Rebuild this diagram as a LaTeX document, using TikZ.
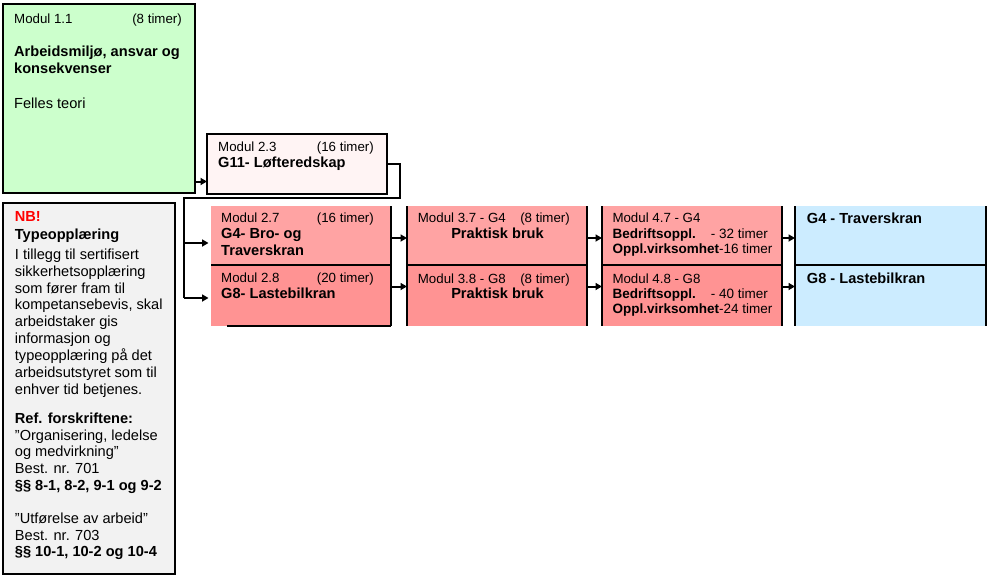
\documentclass[tikz,border=0pt]{standalone}
\usepackage{fontspec}
\setmainfont{Liberation Sans}
\usetikzlibrary{arrows.meta}
\definecolor{grn}{HTML}{CCFFCC}
\definecolor{pk}{HTML}{FFF4F4}
\definecolor{rdA}{HTML}{FFA3A3}
\definecolor{rdB}{HTML}{FF9393}
\definecolor{blu}{HTML}{CCECFF}
\definecolor{gry}{HTML}{F2F2F2}
\definecolor{nbred}{HTML}{FF0000}
\begin{document}
\begin{tikzpicture}[x=1pt,y=-1pt,
  cell/.style={anchor=north west, inner sep=0pt, outer sep=0pt},
  bx/.style={cell, draw=black, line width=1.3pt},
  t/.style={anchor=base west, inner sep=0pt, font=\fontsize{14.6}{16.7}\selectfont},
  tb/.style={t, font=\fontsize{14.6}{16.7}\selectfont\bfseries},
  ts/.style={t, font=\fontsize{13.3}{15}\selectfont},
  tm/.style={t, font=\fontsize{13.5}{15}\selectfont},
  tr/.style={ts, anchor=base east},
  edge/.style={line width=1.3pt},
  conn/.style={line width=2.4pt, line join=miter},
  arr/.style={line width=2pt, -{Triangle[length=6.5pt,width=7pt]}},
]
\useasboundingbox (0,0) rectangle (987,583);
\fill[white] (0,0) rectangle (987,583);

% boxes
\node[bx, fill=grn, minimum width=192pt, minimum height=189pt] (m11) at (3,4) {};
\node[bx, fill=pk, minimum width=180pt, minimum height=60pt] (m23) at (207,134) {};
\node[bx, fill=gry, minimum width=172pt, minimum height=371pt] (nb) at (3,203) {};

\node[cell, fill=rdA, minimum width=180pt, minimum height=59pt] (c27) at (211,206) {};
\node[cell, fill=rdB, minimum width=180pt, minimum height=61pt] (c28) at (211,265) {};
\node[cell, fill=rdA, minimum width=180pt, minimum height=59pt] (c37) at (407,206) {};
\node[cell, fill=rdB, minimum width=180pt, minimum height=61pt] (c38) at (407,265) {};
\node[cell, fill=rdA, minimum width=180pt, minimum height=59pt] (c47) at (602,206) {};
\node[cell, fill=rdB, minimum width=180pt, minimum height=61pt] (c48) at (602,265) {};
\node[cell, fill=blu, minimum width=191pt, minimum height=59pt] (c57) at (795,206) {};
\node[cell, fill=blu, minimum width=191pt, minimum height=61pt] (c58) at (795,265) {};

% partial borders
\draw[edge] (c27.north east) -- (c28.south east);
\draw[edge] (c27.south west) -- (c27.south east);
\draw[edge] ([xshift=16pt]c28.south west) -- (c28.south east);
\foreach \a/\b in {c37/c38,c47/c48,c57/c58}{
  \draw[edge] (\a.north west) -- (\b.south west);
  \draw[edge] (\a.north east) -- (\b.south east);
  \draw[edge] (\a.south west) -- (\a.south east);
}

% connectors
\coordinate (k1) at (400,198);
\coordinate (k2) at (184,198);
\coordinate (a1) at (208.5,243);
\coordinate (a2) at (208.5,298);
\draw[arr] ([yshift=11.5pt]m11.south east) -- ([yshift=11.5pt]m11.south east -| m23.west);
\draw[conn] (m23.east) -| (k1) -- (k2) -- (k2 |- a2);
\draw[arr] (k2 |- a1) -- (a1);
\draw[arr] (k2 |- a2) -- (a2);
\draw[arr] ([yshift=-2.5pt]c27.east) -- ([yshift=-2.5pt]c37.west);
\draw[arr] ([yshift=9pt]c28.east) -- ([yshift=9pt]c38.west);
\draw[arr] ([yshift=-2.5pt]c37.east) -- ([yshift=-2.5pt]c47.west);
\draw[arr] ([yshift=9pt]c38.east) -- ([yshift=9pt]c48.west);
\draw[arr] ([yshift=-2.5pt]c47.east) -- ([yshift=-2.5pt]c57.west);
\draw[arr] ([yshift=9pt]c48.east) -- ([yshift=9pt]c58.west);

% texts: modul 1.1
\node[ts] (t11a) at (14,23.3) {Modul 1.1};
\node[tr] (t11b) at (182,23.3) {(8 timer)};
\node[tb] (t11c) at (14,56.7) {Arbeidsmiljø, ansvar og};
\node[tb] (t11d) at (14,73.3) {konsekvenser};
\node[t] (t11e) at (14,108.3) {Felles teori};

% modul 2.3
\node[ts] (t23a) at (218,151.7) {Modul 2.3};
\node[tr] (t23b) at (374,151.7) {(16 timer)};
\node[tb] (t23c) at (218,167.7) {G11- Løfteredskap};

% modul 2.7 / 2.8
\node[ts] (t27a) at (221,222.3) {Modul 2.7};
\node[tr] (t27b) at (374,222.3) {(16 timer)};
\node[tb] (t27c) at (221,238.5) {G4- Bro- og};
\node[tb] (t27d) at (221,255) {Traverskran};
\node[ts] (t28a) at (221,282.7) {Modul 2.8};
\node[tr] (t28b) at (374,282.7) {(20 timer)};
\node[tb] (t28c) at (221,298.3) {G8- Lastebilkran};

% modul 3.7 / 3.8
\node[ts] (t37a) at (417.7,222.3) {Modul 3.7 - G4};
\node[tr] (t37b) at (570,222.3) {(8 timer)};
\node[tb, anchor=base] (t37c) at (497.5,238.3) {Praktisk bruk};
\node[ts] (t38a) at (417.7,283.3) {Modul 3.8 - G8};
\node[tr] (t38b) at (570,283.3) {(8 timer)};
\node[tb, anchor=base] (t38c) at (497.5,298.3) {Praktisk bruk};

% modul 4.7 / 4.8
\node[ts] (t47a) at (612.3,222.3) {Modul 4.7 - G4};
\node[tm] (t47b) at (612.3,238.3) {\bfseries Bedriftsoppl.};
\node[tm, anchor=base east] (t47c) at (768,238.3) {- 32 timer};
\node[tm] (t47d) at (612.3,253.6) {\textbf{Oppl.virksomhet}-16 timer};
\node[ts] (t48a) at (612.3,283.3) {Modul 4.8 - G8};
\node[tm] (t48b) at (612.3,298.3) {\bfseries Bedriftsoppl.};
\node[tm, anchor=base east] (t48c) at (768,298.3) {- 40 timer};
\node[tm] (t48d) at (612.3,313.6) {\textbf{Oppl.virksomhet}-24 timer};

% results
\node[tb] (t57) at (806.7,223.3) {G4 - Traverskran};
\node[tb] (t58) at (806.7,283.3) {G8 - Lastebilkran};

% NB box
\node[tb, text=nbred] (nbA) at (14.7,221.7) {NB!};
\node[tb] (nbB) at (14.7,239.3) {Typeopplæring};
\foreach \s [count=\i] in {I tillegg til sertifisert, sikkerhetsopplæring, som fører fram til, {kompetansebevis, skal}, arbeidstaker gis, informasjon og, typeopplæring på det, arbeidsutstyret som til, enhver tid betjenes.}{
  \node[t] (nbl\i) at (14.7,{259.3+(\i-1)*16.85}) {\s};
}
\node[tb] (nbC) at (14.7,423.3) {Ref. forskriftene:};
\node[t] (nbD) at (14.7,440) {”Organisering, ledelse};
\node[t] (nbE) at (14.7,456.7) {og medvirkning”};
\node[t] (nbF) at (14.7,473.3) {Best. nr. 701};
\node[tb] (nbG) at (14.7,490.5) {§§ 8-1, 8-2, 9-1 og 9-2};
\node[t] (nbH) at (14.7,523.3) {”Utførelse av arbeid”};
\node[t] (nbI) at (14.7,540) {Best. nr. 703};
\node[tb] (nbJ) at (14.7,556.5) {§§ 10-1, 10-2 og 10-4};
\end{tikzpicture}
\end{document}
